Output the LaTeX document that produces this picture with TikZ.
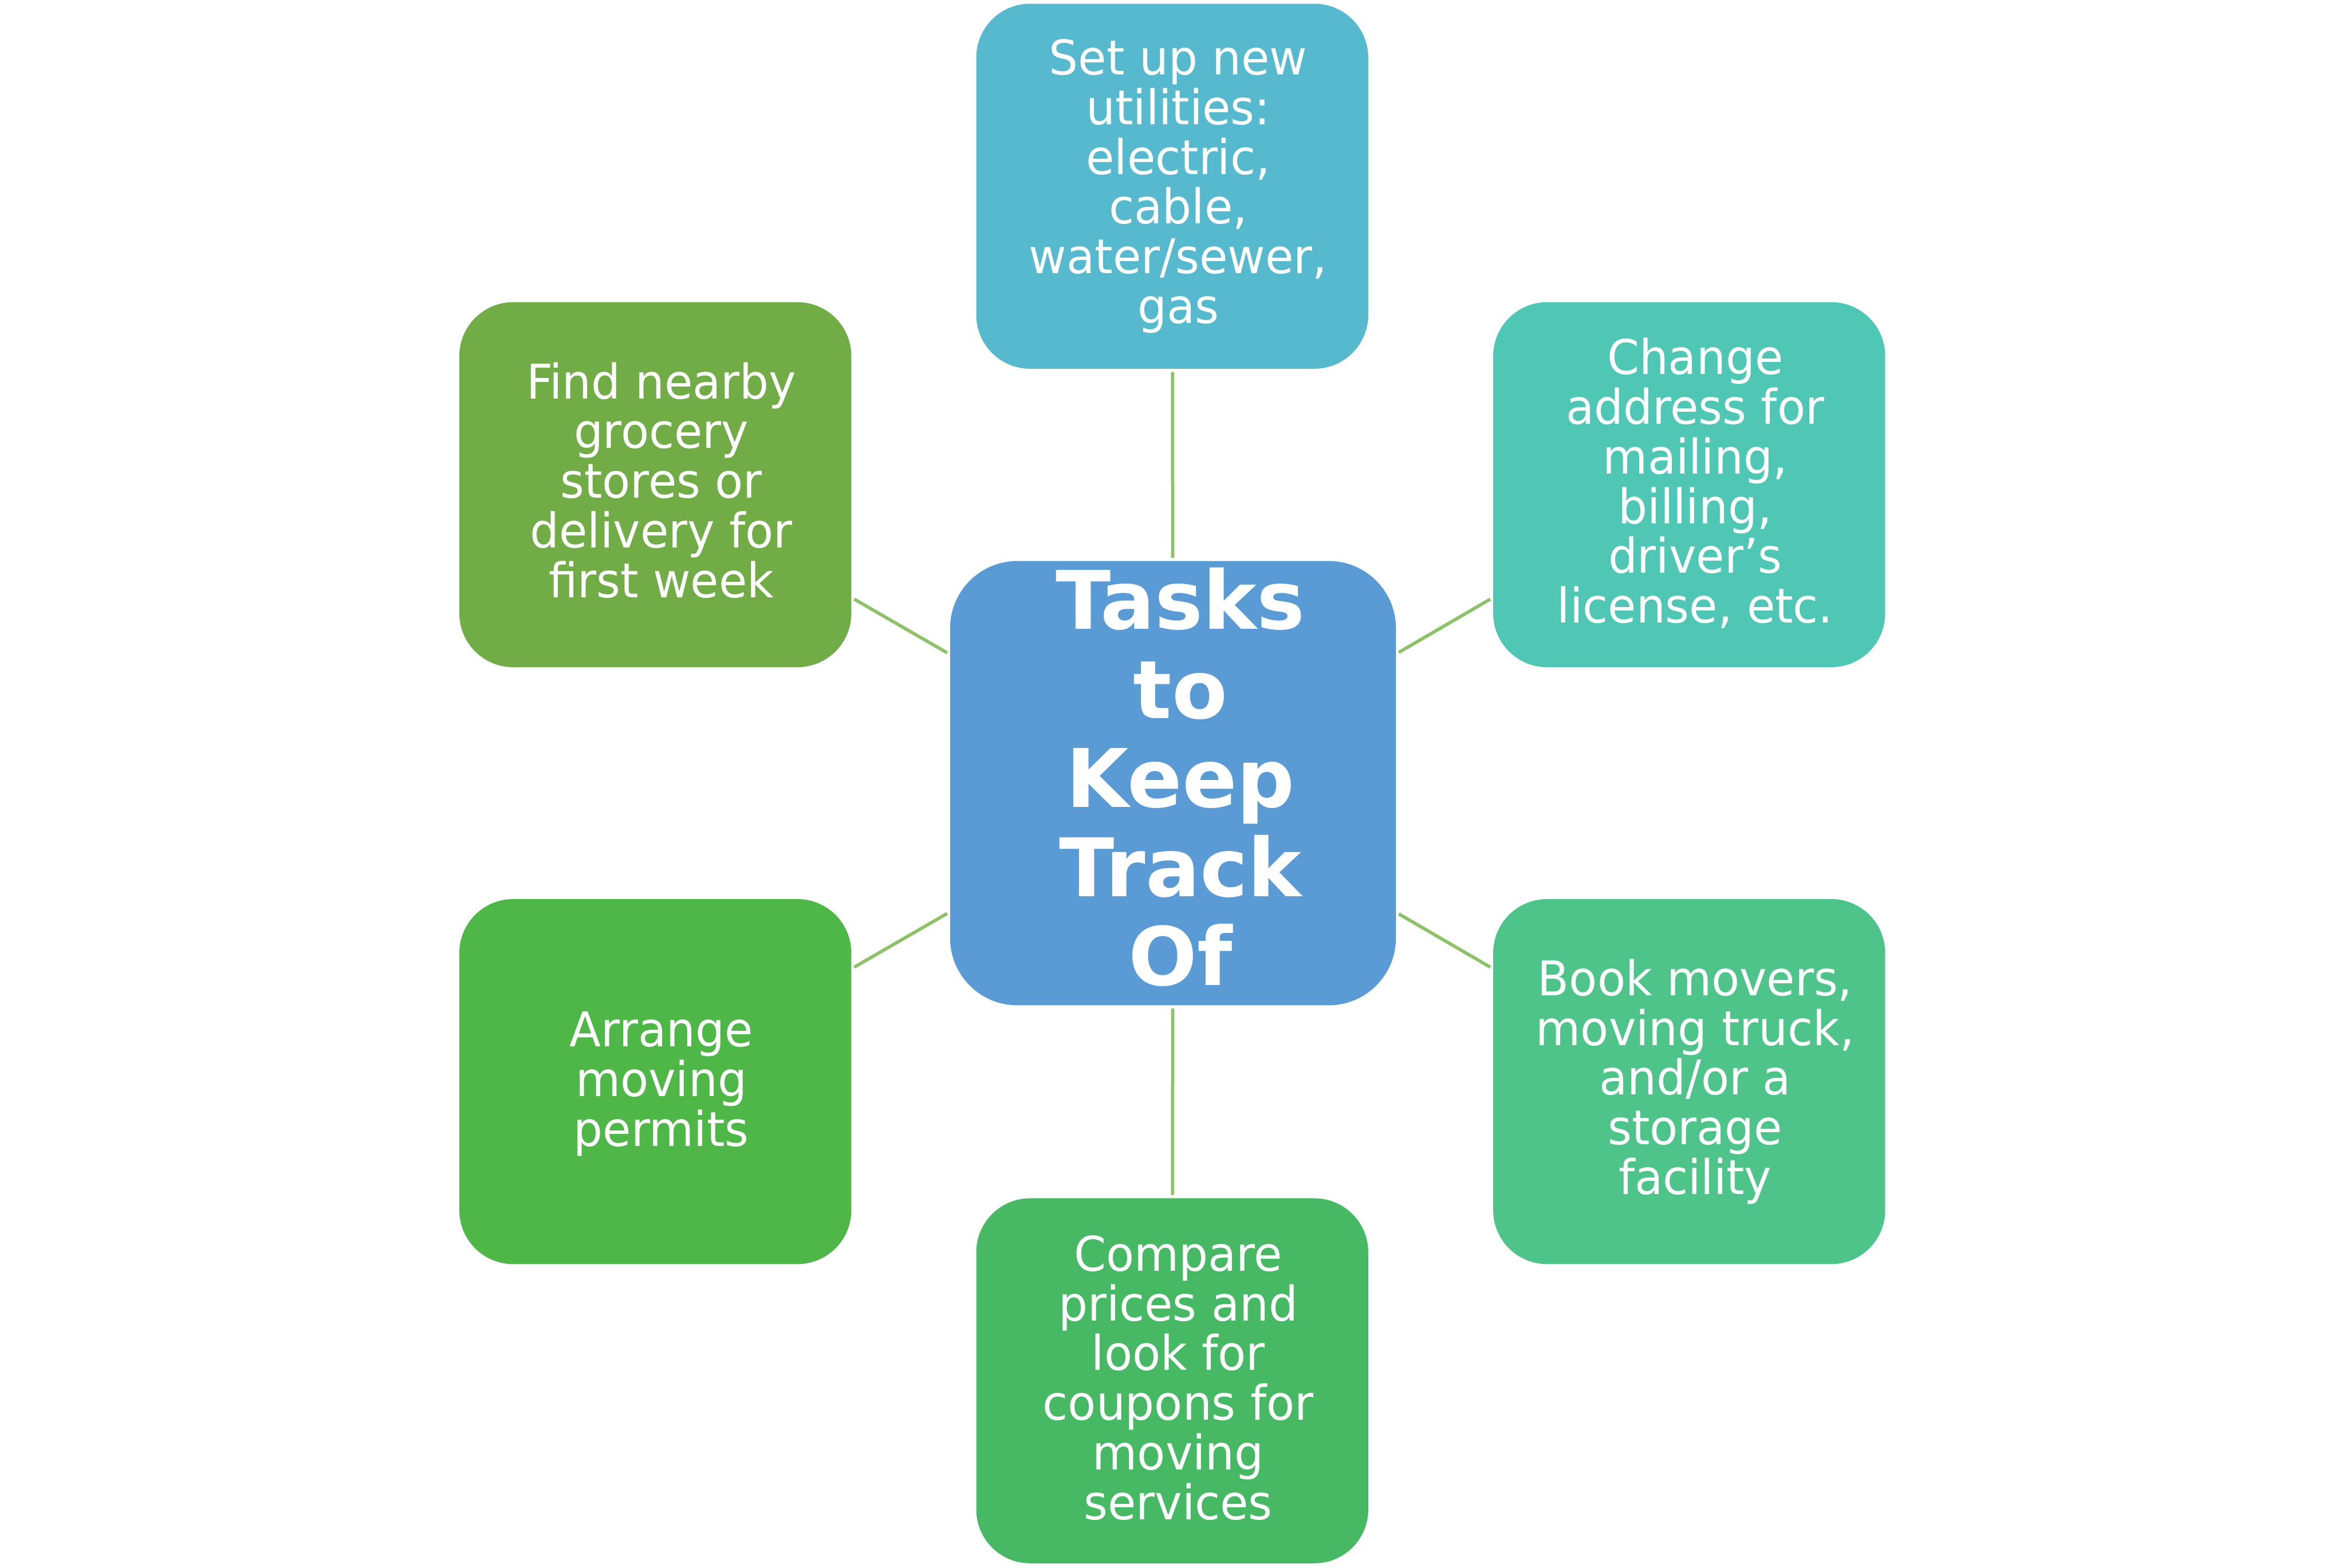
\documentclass[tikz,border=0pt]{standalone}
\usepackage{fontspec}
\setmainfont{DejaVu Sans}[FakeStretch=0.96]
\newfontfamily\titlefont{DejaVu Sans}
\definecolor{ctrblue}{HTML}{5B9BD5}
\definecolor{ctop}{HTML}{56B9CE}
\definecolor{cur}{HTML}{4FC7B4}
\definecolor{clr}{HTML}{4EC48B}
\definecolor{cbot}{HTML}{47B964}
\definecolor{cll}{HTML}{4FB748}
\definecolor{cul}{HTML}{71AC46}
\definecolor{linkgreen}{HTML}{8DC26A}
\begin{document}
\begin{tikzpicture}[x=1pt,y=-1pt,
  sat/.style={rectangle, rounded corners=36pt, minimum width=262pt, minimum height=244pt, inner sep=0pt, fill=#1},
  ctr/.style={rectangle, rounded corners=45pt, minimum width=298pt, minimum height=297pt, inner sep=0pt, fill=ctrblue},
  txt/.style={text=white, align=center, inner sep=0pt, font=\fontsize{32}{33.2}\selectfont},
  ttl/.style={text=white, align=center, inner sep=0pt, font=\titlefont\bfseries\fontsize{54}{59.5}\selectfont},
  link/.style={draw=linkgreen, line width=2.2pt, shorten <=2pt, shorten >=2pt}]
\useasboundingbox (0,0) rectangle (1568,1048);
% nodes
\node[ctr] (c) at (784,523.5) {};
\node[sat=ctop] (t) at (783.5,124.5) {};
\node[sat=cur] (ur) at (1129,324) {};
\node[sat=cul] (ul) at (438,324) {};
\node[sat=cll] (ll) at (438,723) {};
\node[sat=clr] (lr) at (1129,723) {};
\node[sat=cbot] (b) at (783.5,923) {};
% texts
\node[ttl] (ct) at ([xshift=5pt,yshift=4pt]c.center) {Tasks\\to\\Keep\\Track\\Of};
\node[txt] (tt) at ([xshift=4pt,yshift=0pt]t.center) {Set up new\\utilities:\\electric,\\cable,\\water/sewer,\\gas};
\node[txt] (urt) at ([xshift=4pt,yshift=1pt]ur.center) {Change\\address for\\mailing,\\billing,\\driver’s\\license, etc.};
\node[txt] (ult) at ([xshift=4pt,yshift=3pt]ul.center) {Find nearby\\grocery\\stores or\\delivery for\\first week};
\node[txt] (llt) at ([xshift=4pt,yshift=-1.5pt]ll.center) {Arrange\\moving\\permits};
\node[txt] (lrt) at ([xshift=4pt,yshift=0pt]lr.center) {Book movers,\\moving truck,\\and/or a\\storage\\facility};
\node[txt] (bt) at ([xshift=4pt,yshift=2pt]b.center) {Compare\\prices and\\look for\\coupons for\\moving\\services};
% connectors
\draw[link] (c) -- (t);
\draw[link] (c) -- (ur);
\draw[link] (c) -- (ul);
\draw[link] (c) -- (ll);
\draw[link] (c) -- (lr);
\draw[link] (c) -- (b);
\end{tikzpicture}
\end{document}
